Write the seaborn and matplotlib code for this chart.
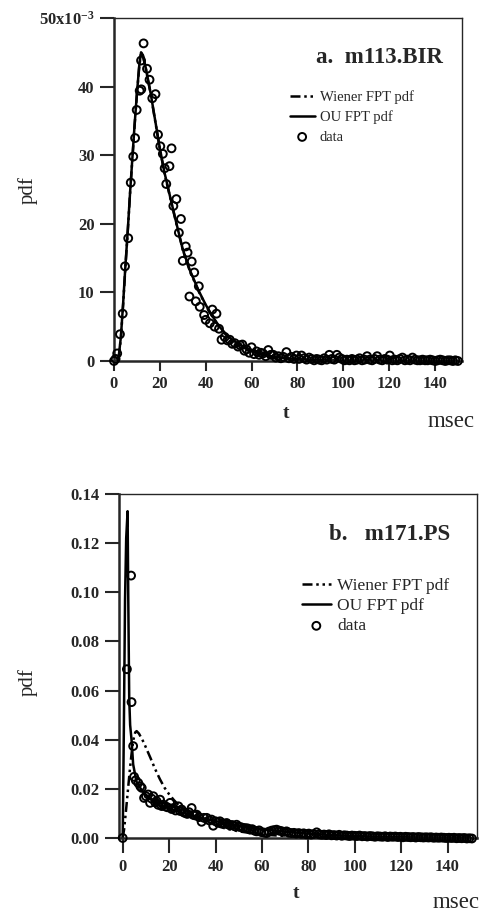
import numpy as np
import pandas as pd
import matplotlib
matplotlib.use("Agg")
import matplotlib.pyplot as plt
import seaborn as sns

# ---------------- Panel a: m113.BIR (pdf in units of 1e-3) ----------------
a_data_t = [0.0, 0.7, 1.4, 2.6, 3.8, 4.8, 6.2, 7.3, 8.4, 9.2, 9.9, 11.2, 11.9, 11.8, 12.9,
            14.4, 15.5, 16.7, 18.1, 19.2, 20.2, 21.3, 22.1, 22.8, 24.2, 25.1, 25.9, 27.2,
            28.3, 29.2, 30.0, 31.3, 32.1, 32.9, 33.9, 35.0, 35.7, 37.0, 37.4, 39.3, 40.0,
            41.8, 42.9, 43.9, 44.7, 45.8, 46.9, 48.3, 49.5, 50.5, 51.6, 52.7, 54.1, 55.0,
            56.0, 56.9, 57.8, 59.0, 60.0, 61.1, 62.2, 63.3, 64.0, 65.0, 66.2, 67.3, 68.4,
            69.5, 70.6, 71.7, 72.8, 73.9, 75.2, 76.3, 77.4, 78.5, 79.6, 80.7, 81.8, 82.9,
            84.0, 85.1, 86.2, 87.3, 88.4, 89.5, 90.6, 91.7, 92.8, 93.9, 95.0, 96.1, 97.2,
            98.3, 99.4, 100.5, 101.6, 102.7, 103.8, 104.9, 106.0, 107.1, 108.2, 109.3,
            110.4, 111.5, 112.6, 113.7, 114.8, 115.9, 117.0, 118.1, 119.2, 120.3, 121.4,
            122.5, 123.6, 124.7, 125.8, 126.9, 128.0, 129.1, 130.2, 131.3, 132.4, 133.5,
            134.6, 135.7, 136.8, 137.9, 139.0, 140.1, 141.2, 142.3, 143.4, 144.5, 145.6,
            146.7, 147.8, 148.9, 150.0]
a_data_v = [0.0, 0.3, 1.1, 3.9, 6.9, 13.8, 17.9, 26.0, 29.8, 32.5, 36.6, 39.4, 39.6, 43.8, 46.3,
            42.6, 41.0, 38.3, 38.9, 33.0, 31.3, 30.2, 28.1, 25.8, 28.4, 31.0, 22.6, 23.6,
            18.7, 20.7, 14.6, 16.7, 15.8, 9.4, 14.5, 12.9, 8.7, 10.9, 7.9, 6.7, 6.0,
            5.5, 7.5, 5.0, 6.9, 4.7, 3.1, 3.5, 3.0, 3.1, 2.5, 2.6, 2.1, 2.3,
            2.4, 1.5, 1.7, 1.2, 2.0, 1.0, 1.4, 0.9, 1.2, 1.1, 0.7, 1.6, 0.9,
            0.9, 0.5, 0.7, 0.4, 0.6, 1.3, 0.4, 0.6, 0.3, 0.8, 0.3, 0.8, 0.4,
            0.2, 0.5, 0.3, 0.1, 0.3, 0.2, 0.1, 0.4, 0.2, 0.9, 0.3, 0.2, 0.9,
            0.5, 0.3, 0.1, 0.2, 0.1, 0.3, 0.1, 0.2, 0.4, 0.1, 0.2,
            0.7, 0.2, 0.1, 0.3, 0.7, 0.2, 0.1, 0.3, 0.2, 0.8, 0.1,
            0.2, 0.1, 0.3, 0.5, 0.1, 0.2, 0.1, 0.5, 0.2, 0.1, 0.1,
            0.2, 0.1, 0.1, 0.2, 0.1, 0.0, 0.1, 0.2, 0.1, 0.0, 0.1,
            0.1, 0.0, 0.1, 0.0]

a_ou_t = [0.0, 1.5, 2.0, 3.0, 4.0, 5.0, 6.0, 7.0, 8.0, 9.0, 10.0, 11.0, 11.8, 12.6, 14.0,
          16.0, 18.0, 20.0, 22.0, 25.0, 28.0, 30.0, 33.0, 37.0, 40.0, 43.0, 46.0, 50.0,
          55.0, 60.0, 65.0, 70.0, 80.0, 90.0, 100.0, 120.0, 150.0]
a_ou_v = [0.0, 0.0, 0.5, 3.5, 8.5, 14.0, 19.0, 24.5, 29.5, 34.5, 39.0, 43.0, 45.0, 44.6, 42.5,
          39.0, 35.0, 31.0, 27.5, 23.2, 19.0, 16.3, 13.3, 10.2, 8.2, 6.5, 5.0, 3.5,
          2.3, 1.5, 0.95, 0.6, 0.25, 0.1, 0.04, 0.01, 0.0]
a_wi_t = a_ou_t
a_wi_v = [0.0, 0.0, 0.4, 3.3, 8.3, 13.8, 18.9, 24.4, 29.4, 34.4, 38.9, 42.9, 44.9, 44.5, 42.4,
          38.9, 34.9, 30.9, 27.4, 23.1, 18.9, 16.2, 13.2, 10.1, 8.1, 6.4, 4.9, 3.4,
          2.2, 1.4, 0.9, 0.55, 0.22, 0.08, 0.03, 0.01, 0.0]

# ---------------- Panel b: m171.PS ----------------
b_data_t = [0.0, 1.8, 3.6, 3.8, 4.5, 4.9, 5.6, 6.7, 7.6, 8.2, 9.2, 10.0, 11.0, 11.8, 12.5,
            13.2, 14.0, 14.6, 15.3, 16.1, 16.8, 17.5, 18.5, 19.3, 20.4, 21.1, 21.8, 22.8,
            24.0, 24.7, 25.4, 26.2, 26.8, 27.8, 28.6, 29.7, 30.4, 31.2, 31.9, 32.9, 34.0,
            35.0, 36.2, 37.2, 38.3, 39.0, 40.0, 41.0, 41.9, 43.0, 43.9, 44.8, 45.5, 46.2,
            47.2, 48.1, 49.1, 50.0, 51.0, 52.0, 53.0, 53.9, 54.9, 55.8, 56.8, 57.7, 58.8,
            59.8, 61.0, 62.0, 63.0, 64.2, 65.2, 66.3, 67.4, 68.4, 69.5, 70.6, 71.6, 72.7,
            73.8, 74.8, 75.9, 77.0, 78.0, 79.1, 80.2, 81.2, 82.3, 83.6, 84.6, 85.7, 86.8,
            87.8, 88.9, 90.0, 91.1, 92.2, 93.3, 94.4, 95.5, 96.6, 97.7, 98.8, 99.9,
            101.0, 102.1, 103.2, 104.3, 105.4, 106.5, 107.6, 108.7, 109.8, 110.9, 112.0,
            113.1, 114.2, 115.3, 116.4, 117.5, 118.6, 119.7, 120.8, 121.9, 123.0, 124.1,
            125.2, 126.3, 127.4, 128.5, 129.6, 130.7, 131.8, 132.9, 134.0, 135.1, 136.2,
            137.3, 138.4, 139.5, 140.6, 141.7, 142.8, 143.9, 145.0, 146.1, 147.2, 148.3,
            149.4, 150.5]
b_data_v = [0.0, 0.0687, 0.1068, 0.0553, 0.0374, 0.0249, 0.0235, 0.0224, 0.0210, 0.0204, 0.0163,
            0.0170, 0.0177, 0.0143, 0.0160, 0.0170, 0.0145, 0.0150, 0.0135, 0.0156, 0.0130,
            0.0136, 0.0128, 0.0125, 0.0143, 0.0118, 0.0122, 0.0112, 0.0129, 0.0110, 0.0116,
            0.0105, 0.0102, 0.0098, 0.0105, 0.0122, 0.0094, 0.0092, 0.0095, 0.0085, 0.0066,
            0.0082, 0.0082, 0.0072, 0.0075, 0.0050, 0.0068, 0.0064, 0.0068, 0.0060, 0.0058,
            0.0061, 0.0055, 0.0052, 0.0053, 0.0048, 0.0054, 0.0046, 0.0044, 0.0041, 0.0040,
            0.0039, 0.0034, 0.0036, 0.0030, 0.0027, 0.0031, 0.0024, 0.0022, 0.0020, 0.0026,
            0.0030, 0.0032, 0.0034, 0.0030, 0.0028, 0.0025, 0.0027, 0.0022, 0.0020, 0.0021,
            0.0018, 0.0020, 0.0017, 0.0019, 0.0015, 0.0018, 0.0014, 0.0016, 0.0023, 0.0015,
            0.0013, 0.0014, 0.0012, 0.0015, 0.0011, 0.0012, 0.0010, 0.0013, 0.0009, 0.0011,
            0.0010, 0.0008, 0.0010, 0.0009, 0.0008, 0.0010, 0.0007, 0.0008, 0.0006, 0.0008,
            0.0007, 0.0005, 0.0007, 0.0006, 0.0005, 0.0007, 0.0004, 0.0006, 0.0005, 0.0006,
            0.0004, 0.0005, 0.0003, 0.0005, 0.0004, 0.0003, 0.0004, 0.0002, 0.0004, 0.0003,
            0.0002, 0.0003, 0.0002, 0.0003, 0.0001, 0.0002, 0.0001, 0.0002, 0.0001, 0.0000,
            0.0001, 0.0000, 0.0001, -0.0001, 0.0000, -0.0001, 0.0000, -0.0002, -0.0001,
            -0.0002]

b_ou_t = [0.0, 0.5, 1.0, 1.5, 2.1, 2.4, 2.8, 3.2, 3.8, 4.5, 5.9, 8.0, 10.0, 13.0, 16.0, 20.0,
          25.0, 30.0, 35.0, 40.0, 45.0, 50.0, 55.0, 60.0, 70.0, 80.0, 90.0, 100.0, 110.0,
          120.0, 135.0, 150.0]
b_ou_v = [0.0, 0.045, 0.097, 0.122, 0.133, 0.097, 0.057, 0.046, 0.040, 0.030, 0.023, 0.0197,
          0.0175, 0.0150, 0.0133, 0.0120, 0.0105, 0.0092, 0.0080, 0.0069, 0.0059, 0.0050,
          0.0043, 0.0036, 0.0026, 0.0018, 0.0012, 0.0008, 0.0005, 0.0003, 0.0001, 0.0]
b_wi_t = [0.0, 0.6, 1.5, 2.4, 3.2, 3.9, 4.6, 5.4, 6.0, 7.0, 9.0, 12.0, 14.0, 16.0, 18.0, 20.0,
          22.0, 24.0, 27.0, 30.0, 35.0, 40.0, 45.0, 50.0, 60.0, 70.0, 80.0, 100.0, 150.0]
b_wi_v = [0.0, 0.0035, 0.012, 0.021, 0.029, 0.035, 0.040, 0.043, 0.0435, 0.0425, 0.0390,
          0.0325, 0.0280, 0.0240, 0.0205, 0.0178, 0.0155, 0.0135, 0.0112, 0.0093, 0.0068,
          0.0050, 0.0037, 0.0027, 0.0014, 0.0008, 0.0004, 0.0001, 0.0]

a_xticks = [0, 20, 40, 60, 80, 100, 120, 140]
a_yticks = [0, 10, 20, 30, 40, 50]
a_yticklabels = ["0", "10", "20", "30", "40", "50x10$^{-3}$"]
b_yticks = [0.00, 0.02, 0.04, 0.06, 0.08, 0.10, 0.12, 0.14]
b_yticklabels = ["0.00", "0.02", "0.04", "0.06", "0.08", "0.10", "0.12", "0.14"]

# ---------------- Styling ----------------
sns.set_style("ticks")
plt.rcParams["font.family"] = ["Liberation Serif", "DejaVu Serif"]
plt.rcParams["mathtext.default"] = "regular"

W, H = 482, 913
fig = plt.figure(figsize=(W / 100, H / 100), dpi=100)

def px_axes(l, t, r, b):
    return fig.add_axes([l / W, 1 - b / H, (r - l) / W, (b - t) / H])

axA = px_axes(114, 18, 462, 361)
axB = px_axes(119, 494, 477, 838)

DASHDOT = (0, (4, 1.5, 1, 1.5, 1, 1.5))

def draw(ax, wt, wv, ot, ov, dt, dv):
    sns.lineplot(x=wt, y=wv, ax=ax, color="black", lw=1.8, linestyle=DASHDOT,
                 label="Wiener FPT pdf", sort=False, estimator=None)
    sns.lineplot(x=ot, y=ov, ax=ax, color="black", lw=1.8, linestyle="-",
                 label="OU FPT pdf", sort=False, estimator=None)
    sns.scatterplot(x=dt, y=dv, ax=ax, marker="o", s=32, linewidth=1.4,
                    label="data", zorder=3)
    coll = ax.collections[-1]
    coll.set_facecolor("none")
    coll.set_edgecolor("black")
    coll.set_clip_on(False)

draw(axA, a_wi_t, a_wi_v, a_ou_t, a_ou_v, a_data_t, a_data_v)
draw(axB, b_wi_t, b_wi_v, b_ou_t, b_ou_v, b_data_t, b_data_v)

axA.set_xlim(0, 151.8)
axA.set_ylim(0, 50)
axB.set_xlim(-1.6, 152.7)
axB.set_ylim(0, 0.14)

axA.set_xticks(a_xticks)
axA.set_yticks(a_yticks)
axA.set_yticklabels(a_yticklabels)
axB.set_xticks(a_xticks)
axB.set_yticks(b_yticks)
axB.set_yticklabels(b_yticklabels)

for ax, xlen in ((axA, 7), (axB, 11)):
    ax.set_xlabel("")
    ax.set_ylabel("")
    for s in ("left", "bottom"):
        ax.spines[s].set_linewidth(1.8)
    for s in ("top", "right"):
        ax.spines[s].set_linewidth(1.0)
    ax.tick_params(axis="y", length=10, width=1.5, pad=4, labelsize=12)
    ax.tick_params(axis="x", length=xlen, width=1.5, pad=4, labelsize=12)
    for lab in ax.get_xticklabels() + ax.get_yticklabels():
        lab.set_fontweight("bold")

legA = axA.legend(loc="upper left", bbox_to_anchor=(0.505, 0.788), frameon=False,
                  handlelength=1.7, handletextpad=0.35, labelspacing=0.42,
                  borderpad=0, borderaxespad=0, fontsize=10.5)
legB = axB.legend(loc="upper left", bbox_to_anchor=(0.51, 0.755), frameon=False,
                  handlelength=1.7, handletextpad=0.35, labelspacing=0.22,
                  borderpad=0, borderaxespad=0, fontsize=12.5)

axA.text(0.945, 0.886, "a.  m113.BIR", transform=axA.transAxes, ha="right", va="center",
         fontsize=16.5, fontweight="bold")
axB.text(0.925, 0.882, "b.   m171.PS", transform=axB.transAxes, ha="right", va="center",
         fontsize=16.5, fontweight="bold")

def ftext(x, y, s, **kw):
    fig.text(x / W, 1 - y / H, s, **kw)

ftext(28, 190, "pdf", rotation=90, ha="center", va="center", fontsize=15)
ftext(28, 682, "pdf", rotation=90, ha="center", va="center", fontsize=15)
ftext(286, 413, "t", ha="center", va="center", fontsize=14, fontweight="bold")
ftext(296, 893, "t", ha="center", va="center", fontsize=14, fontweight="bold")
ftext(428, 421, "msec", ha="left", va="center", fontsize=16.5)
ftext(480, 902, "msec", ha="right", va="center", fontsize=16.5)

fig.savefig("out.png", dpi=100)
